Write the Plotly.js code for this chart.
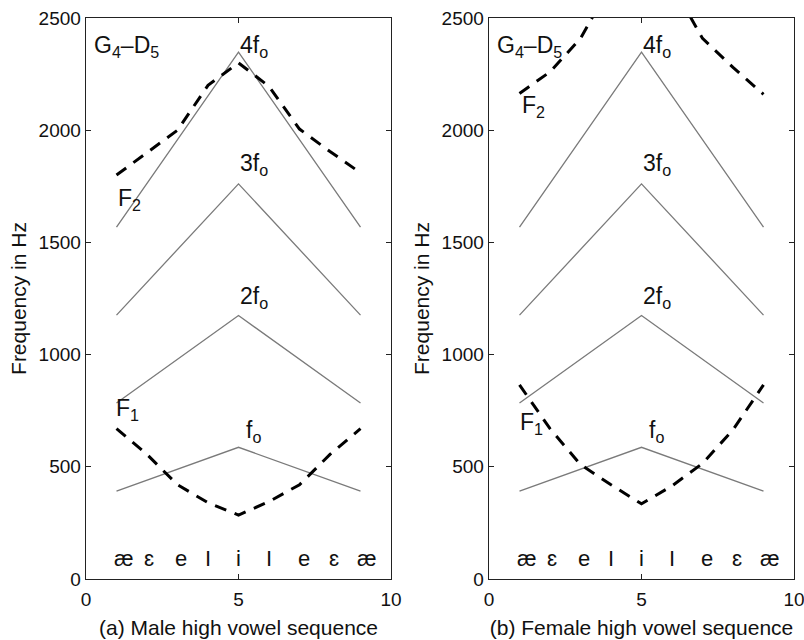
<!DOCTYPE html>
<html>
<head>
<meta charset="utf-8">
<script src="https://cdn.plot.ly/plotly-3.0.1.min.js"></script>
<style>html,body{margin:0;padding:0;background:#fff;}#chart{width:804px;height:640px;}</style>
</head>
<body>
<div id="chart"></div>
<script>
// ---- data ----
const harmX = [1, 5, 9];
const f0 = [392, 587, 392];
const h2 = [784, 1174, 784];
const h3 = [1176, 1761, 1176];
const h4 = [1568, 2348, 1568];

const vowelX = [1, 2, 3, 4, 5, 6, 7, 8, 9];
const maleF1 = [670, 555, 420, 340, 285, 345, 420, 555, 670];
const maleF2 = [1800, 1900, 2000, 2200, 2300, 2195, 2005, 1905, 1810];
const femaleF1 = [865, 670, 510, 420, 335, 415, 515, 665, 865];
const femaleF2 = [2164, 2260, 2409, 2650, 2800, 2650, 2409, 2280, 2160];

const vowelLabels = ['æ', 'ɛ', 'e', 'I', 'i', 'I', 'e', 'ɛ', 'æ'];
const vowelLabelX = [1.25, 2.07, 3.1, 4.0, 5.0, 6.0, 7.15, 8.12, 9.22];

const yTicks = [0, 500, 1000, 1500, 2000, 2500];
const xTicks = [0, 5, 10];
const panelTitles = ['(a) Male high vowel sequence', '(b) Female high vowel sequence'];
const rangeLabel = 'G<sub>4</sub>–D<sub>5</sub>';
const harmLabels = ['f<sub>o</sub>', '2f<sub>o</sub>', '3f<sub>o</sub>', '4f<sub>o</sub>'];

// ---- styles ----
const FONT = 'Liberation Sans, Arial, Helvetica, sans-serif';
const harmLine = {color: '#7a7a7a', width: 1.3};
const formLine = {color: '#000', width: 3, dash: '12px,9px'};

const traces = [];
function addPanel(xa, ya, F1, F2) {
  [f0, h2, h3, h4].forEach(h => traces.push({x: harmX, y: h, xaxis: xa, yaxis: ya, mode: 'lines', line: harmLine, hoverinfo: 'skip'}));
  traces.push({x: vowelX, y: F1, xaxis: xa, yaxis: ya, mode: 'lines', line: formLine, hoverinfo: 'skip'});
  traces.push({x: vowelX, y: F2, xaxis: xa, yaxis: ya, mode: 'lines', line: formLine, hoverinfo: 'skip'});
}
addPanel('x', 'y', maleF1, maleF2);
addPanel('x2', 'y2', femaleF1, femaleF2);

const annotations = [];
function addAnn(xr, yr, x, y, text, anchor, size) {
  annotations.push({xref: xr, yref: yr, x: x, y: y, text: text, showarrow: false,
    xanchor: anchor || 'left', yanchor: 'middle', font: {family: FONT, size: size || 23, color: '#111'}});
}
function panelAnn(xr, yr, f1lab, f2lab) {
  addAnn(xr, yr, 0.2, 2375, rangeLabel);
  addAnn(xr, yr, 4.98, 2375, harmLabels[3]);
  addAnn(xr, yr, 4.98, 1845, harmLabels[2]);
  addAnn(xr, yr, 4.98, 1253, harmLabels[1]);
  addAnn(xr, yr, 5.18, 657, harmLabels[0]);
  addAnn(xr, yr, f2lab[0], f2lab[1], 'F<sub>2</sub>');
  addAnn(xr, yr, f1lab[0], f1lab[1], 'F<sub>1</sub>');
  vowelLabels.forEach((v, i) => addAnn(xr, yr, vowelLabelX[i], 90, v, 'center', 22));
}
panelAnn('x', 'y', [0.93, 755], [0.98, 1690]);
panelAnn('x2', 'y2', [0.94, 695], [1.0, 2105]);

function xAxis(dom, anchor, title) {
  return {domain: dom, anchor: anchor, range: [0, 10], tickvals: xTicks, ticks: 'inside', ticklen: 5,
    tickcolor: '#222', showline: true, linecolor: '#222', linewidth: 1.3, mirror: 'ticks',
    showgrid: false, zeroline: false, tickfont: {family: FONT, size: 19, color: '#111'},
    ticklabelstandoff: 3, ticklabeloverflow: 'allow',
    title: {text: title, font: {family: FONT, size: 21, color: '#111'}, standoff: 11}};
}
function yAxis(dom, anchor) {
  return {domain: dom, anchor: anchor, range: [0, 2500], tickvals: yTicks, ticks: 'inside', ticklen: 5,
    tickcolor: '#222', showline: true, linecolor: '#222', linewidth: 1.3, mirror: 'ticks',
    showgrid: false, zeroline: false, tickfont: {family: FONT, size: 19, color: '#111'},
    ticklabeloverflow: 'allow',
    title: {text: 'Frequency in Hz', font: {family: FONT, size: 21, color: '#111'}, standoff: 6}};
}
const yDom = [61 / 640, 622 / 640];
const layout = {
  width: 804, height: 640, margin: {l: 0, r: 0, t: 0, b: 0},
  paper_bgcolor: '#fff', plot_bgcolor: '#fff', showlegend: false,
  xaxis: xAxis([86 / 804, 391 / 804], 'y', panelTitles[0]),
  yaxis: yAxis(yDom, 'x'),
  xaxis2: xAxis([489 / 804, 794 / 804], 'y2', panelTitles[1]),
  yaxis2: yAxis(yDom, 'x2'),
  annotations: annotations
};
Plotly.newPlot('chart', traces, layout, {staticPlot: true});
</script>
</body>
</html>
